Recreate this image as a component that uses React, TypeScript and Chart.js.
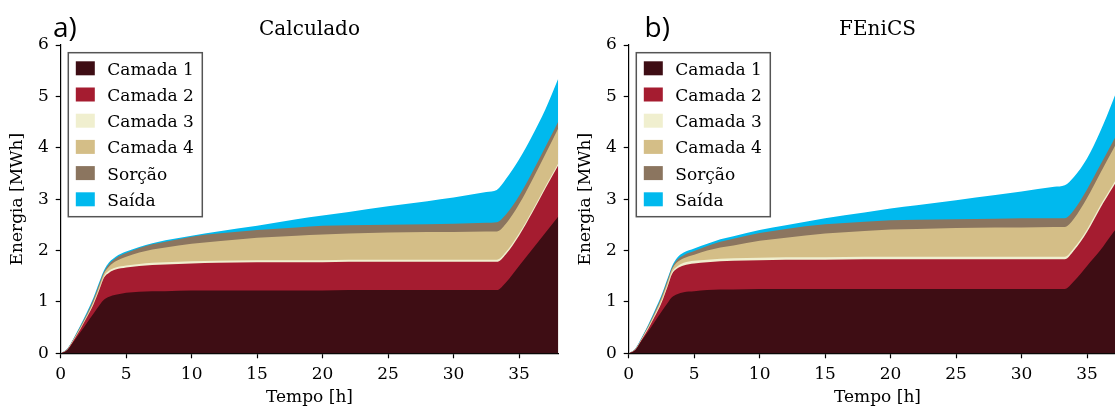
import React, { useEffect, useRef } from "react";
import { Chart, registerables } from "chart.js";

Chart.register(...registerables);

// Tempo [h]
const tempo = [0, 0.5, 1, 1.5, 2, 2.5, 3, 3.3, 3.7, 4.2, 5, 6, 7, 8, 10, 12, 15, 18, 20, 22, 25, 28, 30, 32.5, 33.3, 34, 35, 36, 37, 38];

const camadas = ["Camada 1", "Camada 2", "Camada 3", "Camada 4", "Sorção", "Saída"];
const cores = ["#3e0d14", "#a51c30", "#f0efcf", "#d4be87", "#8b755f", "#00b9ee"];

const ticksX = [0, 5, 10, 15, 20, 25, 30, 35];
const ticksY = [0, 1, 2, 3, 4, 5, 6];

// a) Calculado — accumulated energy (upper edge of each stacked layer) [MWh]
const calcCamada1 = [0, 0.06, 0.23, 0.41, 0.59, 0.77, 0.95, 1.04, 1.1, 1.14, 1.18, 1.2, 1.21, 1.21, 1.22, 1.22, 1.22, 1.22, 1.22, 1.23, 1.23, 1.23, 1.23, 1.23, 1.23, 1.38, 1.7, 2.02, 2.34, 2.66];
const calcCamada2 = [0, 0.07, 0.26, 0.47, 0.7, 0.95, 1.27, 1.47, 1.57, 1.63, 1.67, 1.7, 1.72, 1.73, 1.75, 1.76, 1.77, 1.77, 1.77, 1.78, 1.78, 1.78, 1.78, 1.78, 1.78, 1.93, 2.29, 2.73, 3.2, 3.66];
const calcCamada3 = [0, 0.075, 0.27, 0.48, 0.72, 0.98, 1.3, 1.5, 1.61, 1.67, 1.71, 1.74, 1.76, 1.77, 1.79, 1.8, 1.81, 1.81, 1.81, 1.82, 1.82, 1.82, 1.82, 1.82, 1.82, 1.97, 2.33, 2.77, 3.24, 3.7];
const calcCamada4 = [0, 0.08, 0.28, 0.5, 0.74, 1.01, 1.35, 1.55, 1.69, 1.79, 1.88, 1.96, 2.02, 2.06, 2.13, 2.18, 2.25, 2.29, 2.31, 2.33, 2.35, 2.36, 2.36, 2.37, 2.37, 2.52, 2.9, 3.37, 3.87, 4.38];
const calcSorcao = [0, 0.085, 0.29, 0.52, 0.77, 1.05, 1.39, 1.58, 1.74, 1.85, 1.95, 2.05, 2.12, 2.17, 2.27, 2.33, 2.4, 2.45, 2.48, 2.49, 2.5, 2.51, 2.52, 2.54, 2.55, 2.7, 3.06, 3.52, 4.01, 4.51];
const calcSaida = [0, 0.09, 0.3, 0.54, 0.8, 1.08, 1.42, 1.61, 1.77, 1.88, 1.98, 2.07, 2.14, 2.2, 2.29, 2.37, 2.48, 2.61, 2.68, 2.75, 2.86, 2.96, 3.03, 3.14, 3.18, 3.39, 3.77, 4.23, 4.74, 5.35];

// b) FEniCS — accumulated energy (upper edge of each stacked layer) [MWh]
const fenCamada1 = [0, 0.06, 0.25, 0.43, 0.62, 0.81, 0.99, 1.09, 1.15, 1.19, 1.21, 1.23, 1.24, 1.24, 1.25, 1.25, 1.25, 1.25, 1.25, 1.25, 1.25, 1.25, 1.25, 1.25, 1.25, 1.4, 1.7, 2.0, 2.35, 2.68];
const fenCamada2 = [0, 0.07, 0.27, 0.48, 0.72, 0.98, 1.32, 1.54, 1.65, 1.71, 1.75, 1.77, 1.79, 1.8, 1.81, 1.82, 1.82, 1.83, 1.83, 1.83, 1.83, 1.83, 1.83, 1.83, 1.83, 2.0, 2.36, 2.82, 3.24, 3.66];
const fenCamada3 = [0, 0.075, 0.28, 0.5, 0.75, 1.02, 1.36, 1.58, 1.69, 1.76, 1.8, 1.82, 1.84, 1.85, 1.86, 1.87, 1.87, 1.88, 1.88, 1.88, 1.88, 1.88, 1.88, 1.88, 1.88, 2.05, 2.41, 2.87, 3.29, 3.71];
const fenCamada4 = [0, 0.08, 0.29, 0.52, 0.78, 1.06, 1.41, 1.63, 1.77, 1.85, 1.92, 2.0, 2.06, 2.1, 2.19, 2.25, 2.33, 2.38, 2.41, 2.42, 2.44, 2.45, 2.45, 2.46, 2.46, 2.62, 3.02, 3.5, 3.97, 4.45];
const fenSorcao = [0, 0.085, 0.3, 0.54, 0.81, 1.1, 1.45, 1.66, 1.82, 1.91, 1.99, 2.09, 2.17, 2.23, 2.34, 2.42, 2.51, 2.56, 2.59, 2.6, 2.61, 2.62, 2.63, 2.63, 2.63, 2.79, 3.19, 3.66, 4.13, 4.62];
const fenSaida = [0, 0.09, 0.31, 0.56, 0.84, 1.13, 1.48, 1.69, 1.86, 1.96, 2.04, 2.13, 2.22, 2.28, 2.4, 2.49, 2.63, 2.74, 2.82, 2.88, 2.98, 3.08, 3.15, 3.24, 3.27, 3.43, 3.79, 4.31, 4.93, 5.6];

const SERIF = '"DejaVu Serif", "Liberation Serif", serif';

const anotacoes = {
  id: "anotacoes",
  afterDraw(chart: any) {
    const o = chart.options.plugins.anotacoes;
    const ctx = chart.ctx;
    const ca = chart.chartArea;
    const cx = (ca.left + ca.right) / 2;
    ctx.save();
    ctx.fillStyle = "#000";
    // title
    ctx.font = `20px ${SERIF}`;
    ctx.textAlign = "center";
    ctx.textBaseline = "alphabetic";
    ctx.fillText(o.titulo, cx, 35);
    // panel label
    ctx.font = `28px "Open Sans", "Noto Sans", sans-serif`;
    ctx.textAlign = "left";
    ctx.fillText(o.painel, o.painelX, 37);
    // axis titles
    ctx.font = `17px ${SERIF}`;
    ctx.textAlign = "center";
    ctx.fillText("Tempo [h]", cx, 402);
    ctx.save();
    ctx.translate(22, (ca.top + ca.bottom) / 2);
    ctx.rotate(-Math.PI / 2);
    ctx.fillText("Energia [MWh]", 0, 0);
    ctx.restore();
    // legend
    const lx = ca.left + 7.6;
    const ly = ca.top + 7.7;
    const lw = 134;
    const lh = 164;
    ctx.fillStyle = "#fff";
    ctx.fillRect(lx, ly, lw, lh);
    ctx.strokeStyle = "#555";
    ctx.lineWidth = 1.5;
    ctx.strokeRect(lx, ly, lw, lh);
    ctx.textAlign = "left";
    for (let i = 0; i < camadas.length; i++) {
      const yc = ly + 15.6 + i * 26.2;
      ctx.fillStyle = cores[i];
      ctx.fillRect(lx + 7.5, yc - 7, 19, 14);
      ctx.fillStyle = "#000";
      ctx.fillText(camadas[i], lx + 39, yc + 6.5);
    }
    ctx.restore();
  },
};

function Painel({ series, titulo, painel, painelX }: { series: number[][]; titulo: string; painel: string; painelX: number }) {
  const ref = useRef<HTMLCanvasElement>(null);
  useEffect(() => {
    if (!ref.current) return;
    const datasets = series.map((s, i) => ({
      label: camadas[i],
      data: tempo.map((t, j) => ({ x: t, y: s[j] })),
      backgroundColor: cores[i],
      borderColor: cores[i],
      borderWidth: 0,
      pointRadius: 0,
      fill: "origin",
      cubicInterpolationMode: "monotone" as const,
    }));
    const chart = new Chart(ref.current, {
      type: "line",
      data: { datasets },
      plugins: [anotacoes],
      options: {
        animation: false,
        responsive: false,
        devicePixelRatio: 1,
        layout: { padding: { left: 0, right: 9.7, top: 45, bottom: 0 } },
        plugins: {
          legend: { display: false },
          title: { display: false },
          tooltip: { enabled: false },
          // @ts-ignore
          anotacoes: { titulo, painel, painelX },
        },
        scales: {
          x: {
            type: "linear",
            min: 0,
            max: 38,
            afterFit: (s: any) => {
              s.height = 52.7;
            },
            afterBuildTicks: (s: any) => {
              s.ticks = ticksX.map((v) => ({ value: v }));
            },
            ticks: {
              includeBounds: false,
              font: { family: SERIF, size: 17 },
              color: "#000",
              padding: 6,
              maxRotation: 0,
              autoSkip: false,
            },
            grid: { display: true, drawOnChartArea: false, drawTicks: true, tickLength: 5, color: "#000", tickWidth: 1.2 },
            border: { display: true, color: "#000", width: 1.2 },
          },
          y: {
            type: "linear",
            min: 0,
            max: 6,
            afterFit: (s: any) => {
              s.width = 60.7;
            },
            afterBuildTicks: (s: any) => {
              s.ticks = ticksY.map((v) => ({ value: v }));
            },
            ticks: {
              includeBounds: false,
              font: { family: SERIF, size: 17 },
              color: "#000",
              padding: 7,
              autoSkip: false,
            },
            grid: { display: true, drawOnChartArea: false, drawTicks: true, tickLength: 5, color: "#000", tickWidth: 1.2 },
            border: { display: true, color: "#000", width: 1.2 },
          },
        },
      } as any,
    });
    return () => chart.destroy();
  }, []);
  return <canvas ref={ref} width={568} height={406} style={{ display: "block", width: 568, height: 406 }} />;
}

export default function App() {
  return (
    <div style={{ position: "absolute", left: 0, top: 0, width: 1115, height: 406, overflow: "hidden", background: "#fff" }}>
      <div style={{ position: "absolute", left: 0, top: 0 }}>
        <Painel
          series={[calcCamada1, calcCamada2, calcCamada3, calcCamada4, calcSorcao, calcSaida]}
          titulo="Calculado"
          painel="a)"
          painelX={53}
        />
      </div>
      <div style={{ position: "absolute", left: 568, top: 0 }}>
        <Painel
          series={[fenCamada1, fenCamada2, fenCamada3, fenCamada4, fenSorcao, fenSaida]}
          titulo="FEniCS"
          painel="b)"
          painelX={76.5}
        />
      </div>
    </div>
  );
}
